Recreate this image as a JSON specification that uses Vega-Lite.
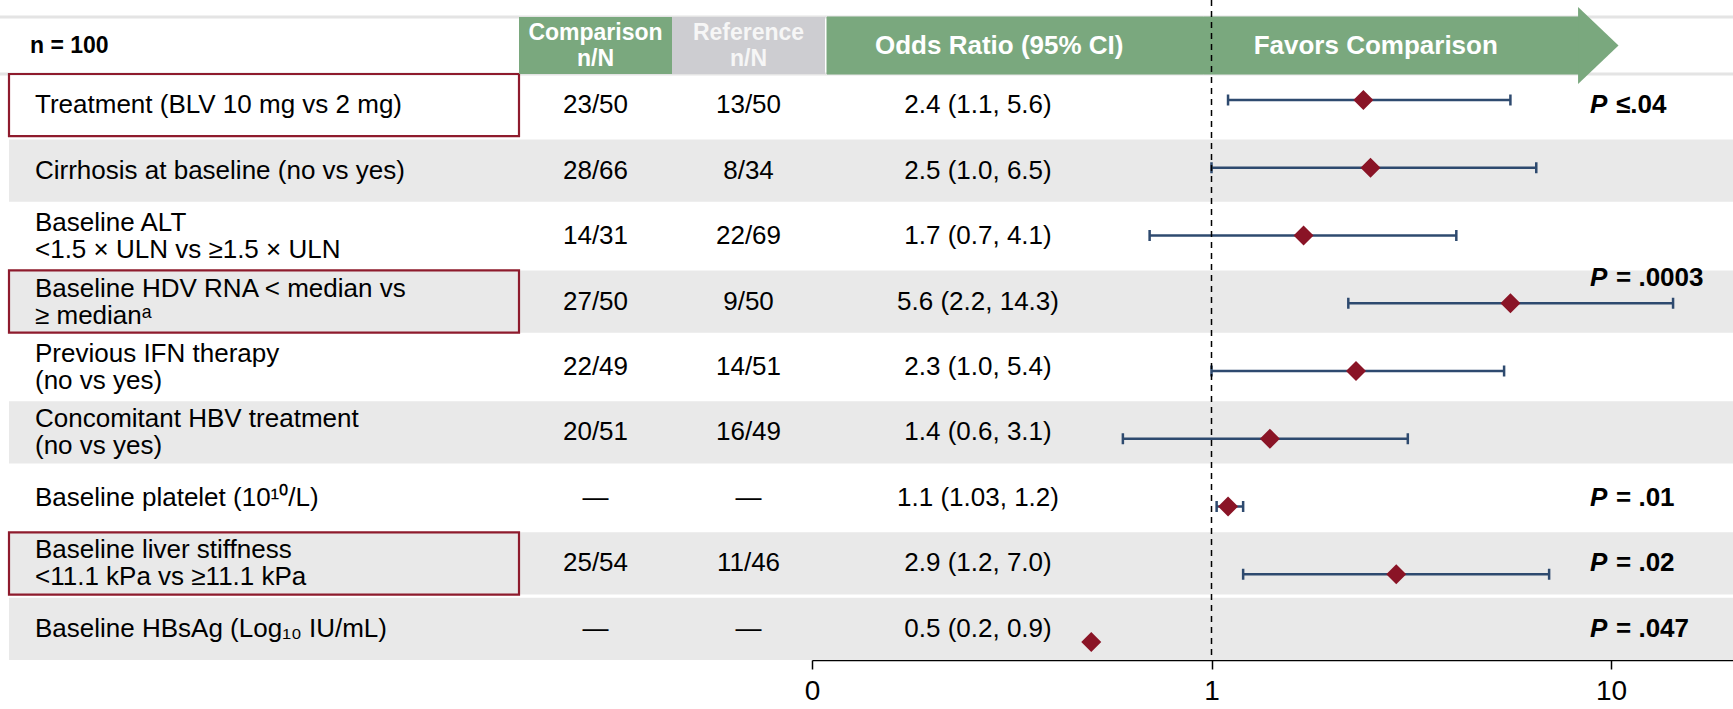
{
  "$schema": "https://vega.github.io/schema/vega-lite/v6.json",
  "width": 1733,
  "height": 660,
  "autosize": {"type": "none"},
  "padding": {"left": 0, "top": 0, "right": 0, "bottom": 49},
  "background": "white",
  "config": {
    "view": {"stroke": null},
    "text": {"font": "Liberation Sans", "fontSize": 26, "color": "#000000"},
    "axis": {"labelFont": "Liberation Sans"}
  },
  "datasets": {
    "rows": [
      {"row": 1, "label": "Treatment (BLV 10 mg vs 2 mg)", "comparison": "23/50", "reference": "13/50", "or": 2.4, "lo": 1.1, "hi": 5.6, "or_text": "2.4 (1.1, 5.6)", "p": "≤.04"},
      {"row": 2, "label": "Cirrhosis at baseline (no vs yes)", "comparison": "28/66", "reference": "8/34", "or": 2.5, "lo": 1.0, "hi": 6.5, "or_text": "2.5 (1.0, 6.5)", "p": null},
      {"row": 3, "label": "Baseline ALT\n<1.5 × ULN vs ≥1.5 × ULN", "comparison": "14/31", "reference": "22/69", "or": 1.7, "lo": 0.7, "hi": 4.1, "or_text": "1.7 (0.7, 4.1)", "p": null},
      {"row": 4, "label": "Baseline HDV RNA < median vs\n≥ medianᵃ", "comparison": "27/50", "reference": "9/50", "or": 5.6, "lo": 2.2, "hi": 14.3, "or_text": "5.6 (2.2, 14.3)", "p": "= .0003"},
      {"row": 5, "label": "Previous IFN therapy\n(no vs yes)", "comparison": "22/49", "reference": "14/51", "or": 2.3, "lo": 1.0, "hi": 5.4, "or_text": "2.3 (1.0, 5.4)", "p": null},
      {"row": 6, "label": "Concomitant HBV treatment\n(no vs yes)", "comparison": "20/51", "reference": "16/49", "or": 1.4, "lo": 0.6, "hi": 3.1, "or_text": "1.4 (0.6, 3.1)", "p": null},
      {"row": 7, "label": "Baseline platelet (10¹⁰/L)", "comparison": "—", "reference": "—", "or": 1.1, "lo": 1.03, "hi": 1.2, "or_text": "1.1 (1.03, 1.2)", "p": "= .01"},
      {"row": 8, "label": "Baseline liver stiffness\n<11.1 kPa vs ≥11.1 kPa", "comparison": "25/54", "reference": "11/46", "or": 2.9, "lo": 1.2, "hi": 7.0, "or_text": "2.9 (1.2, 7.0)", "p": "= .02"},
      {"row": 9, "label": "Baseline HBsAg (Log₁₀ IU/mL)", "comparison": "—", "reference": "—", "or": 0.5, "lo": null, "hi": null, "or_text": "0.5 (0.2, 0.9)", "p": "= .047"}
    ],
    "header": [
      {"section": "n", "title": "n = 100"},
      {"section": "comparison", "title": "Comparison\nn/N"},
      {"section": "reference", "title": "Reference\nn/N"},
      {"section": "odds", "title": "Odds Ratio (95% CI)"},
      {"section": "favors", "title": "Favors Comparison"}
    ]
  },
  "layer": [
    {
      "data": {"name": "rows"},
      "transform": [{"filter": "indexof([2,4,6,8,9], datum.row) >= 0"}],
      "mark": {"type": "rect", "color": "#e9e9e9"},
      "encoding": {
        "x": {"datum": "all", "type": "nominal", "scale": {"type": "band", "domain": ["all"], "range": [9, 1733], "paddingInner": 0, "paddingOuter": 0}, "axis": null},
        "y": {"field": "row", "type": "ordinal", "scale": {"type": "band", "domain": [1,2,3,4,5,6,7,8,9], "range": [74, 660], "paddingInner": 0.05, "paddingOuter": 0}, "axis": null}
      }
    },
    {
      "data": {"name": "header"},
      "transform": [{"filter": "datum.section === 'n'"}],
      "layer": [
        {"mark": {"type": "rule", "color": "#e4e4e4", "strokeWidth": 3},
         "encoding": {"y": {"datum": "header", "type": "nominal", "bandPosition": 0, "scale": {"type": "band", "domain": ["header"], "range": [17, 74], "paddingInner": 0, "paddingOuter": 0}, "axis": null}}},
        {"mark": {"type": "rule", "color": "#e4e4e4", "strokeWidth": 3},
         "encoding": {"y": {"datum": "header", "type": "nominal", "bandPosition": 1, "scale": {"type": "band", "domain": ["header"], "range": [17, 74], "paddingInner": 0, "paddingOuter": 0}, "axis": null}}},
        {"mark": {"type": "text", "align": "left", "baseline": "middle", "fontWeight": "bold", "fontSize": 23, "dx": 21},
         "encoding": {
           "x": {"datum": "label", "type": "nominal", "bandPosition": 0, "scale": {"type": "band", "domain": ["label"], "range": [9, 519], "paddingInner": 0, "paddingOuter": 0}, "axis": null},
           "y": {"datum": "header", "type": "nominal", "scale": {"type": "band", "domain": ["header"], "range": [17, 74], "paddingInner": 0, "paddingOuter": 0}, "axis": null},
           "text": {"field": "title"}
         }}
      ]
    },
    {
      "data": {"name": "rows"},
      "layer": [
        {"transform": [{"filter": "indexof([1,4,8], datum.row) >= 0"}],
         "mark": {"type": "rect", "filled": false, "color": "#8e1b2d", "strokeWidth": 2.2},
         "encoding": {
           "x": {"datum": "label", "type": "nominal", "scale": {"type": "band", "domain": ["label"], "range": [9, 519], "paddingInner": 0, "paddingOuter": 0}, "axis": null},
           "y": {"field": "row", "type": "ordinal", "scale": {"type": "band", "domain": [1,2,3,4,5,6,7,8,9], "range": [74, 660], "paddingInner": 0.05, "paddingOuter": 0}, "axis": null}
         }},
        {"transform": [{"filter": "indexof(datum.label, '\\n') < 0"}],
         "mark": {"type": "text", "align": "left", "baseline": "middle", "dx": 26},
         "encoding": {
           "x": {"datum": "label", "type": "nominal", "bandPosition": 0, "scale": {"type": "band", "domain": ["label"], "range": [9, 519], "paddingInner": 0, "paddingOuter": 0}, "axis": null},
           "y": {"field": "row", "type": "ordinal", "scale": {"type": "band", "domain": [1,2,3,4,5,6,7,8,9], "range": [74, 660], "paddingInner": 0.05, "paddingOuter": 0}, "axis": null},
           "text": {"field": "label"}
         }},
        {"transform": [{"filter": "indexof(datum.label, '\\n') >= 0"}],
         "mark": {"type": "text", "align": "left", "baseline": "middle", "dx": 26, "dy": -13, "lineBreak": "\n", "lineHeight": 27},
         "encoding": {
           "x": {"datum": "label", "type": "nominal", "bandPosition": 0, "scale": {"type": "band", "domain": ["label"], "range": [9, 519], "paddingInner": 0, "paddingOuter": 0}, "axis": null},
           "y": {"field": "row", "type": "ordinal", "scale": {"type": "band", "domain": [1,2,3,4,5,6,7,8,9], "range": [74, 660], "paddingInner": 0.05, "paddingOuter": 0}, "axis": null},
           "text": {"field": "label"}
         }}
      ]
    },
    {
      "data": {"name": "rows"},
      "encoding": {
        "y": {"field": "row", "type": "ordinal", "scale": {"type": "band", "domain": [1,2,3,4,5,6,7,8,9], "range": [74, 660], "paddingInner": 0.05, "paddingOuter": 0}, "axis": null}
      },
      "layer": [
        {"mark": {"type": "text", "align": "center", "baseline": "middle"},
         "encoding": {
           "x": {"datum": "comparison", "type": "nominal", "scale": {"type": "band", "domain": ["comparison", "reference"], "range": [519, 825], "paddingInner": 0, "paddingOuter": 0}, "axis": null},
           "text": {"field": "comparison"}
         }},
        {"mark": {"type": "text", "align": "center", "baseline": "middle"},
         "encoding": {
           "x": {"datum": "reference", "type": "nominal", "scale": {"type": "band", "domain": ["comparison", "reference"], "range": [519, 825], "paddingInner": 0, "paddingOuter": 0}, "axis": null},
           "text": {"field": "reference"}
         }}
      ]
    },
    {
      "data": {"name": "rows"},
      "mark": {"type": "text", "align": "center", "baseline": "middle"},
      "encoding": {
        "x": {"datum": "or", "type": "nominal", "scale": {"type": "band", "domain": ["or"], "range": [826, 1130], "paddingInner": 0, "paddingOuter": 0}, "axis": null},
        "y": {"field": "row", "type": "ordinal", "scale": {"type": "band", "domain": [1,2,3,4,5,6,7,8,9], "range": [74, 660], "paddingInner": 0.05, "paddingOuter": 0}, "axis": null},
        "text": {"field": "or_text"}
      }
    },
    {
      "data": {"name": "rows"},
      "transform": [{"filter": "datum.p != null"}],
      "encoding": {
        "x": {"datum": "p", "type": "nominal", "bandPosition": 0, "scale": {"type": "band", "domain": ["p"], "range": [1590, 1733], "paddingInner": 0, "paddingOuter": 0}, "axis": null},
        "y": {"field": "row", "type": "ordinal", "scale": {"type": "band", "domain": [1,2,3,4,5,6,7,8,9], "range": [74, 660], "paddingInner": 0.05, "paddingOuter": 0}, "axis": null}
      },
      "layer": [
        {"transform": [{"filter": "datum.row != 4"}],
         "mark": {"type": "text", "align": "left", "baseline": "middle", "fontWeight": "bold", "fontStyle": "italic"},
         "encoding": {"text": {"value": "P"}}},
        {"transform": [{"filter": "datum.row != 4"}],
         "mark": {"type": "text", "align": "left", "baseline": "middle", "fontWeight": "bold", "dx": 26},
         "encoding": {"text": {"field": "p"}}},
        {"transform": [{"filter": "datum.row == 4"}],
         "mark": {"type": "text", "align": "left", "baseline": "middle", "fontWeight": "bold", "fontStyle": "italic", "dy": -24},
         "encoding": {"text": {"value": "P"}}},
        {"transform": [{"filter": "datum.row == 4"}],
         "mark": {"type": "text", "align": "left", "baseline": "middle", "fontWeight": "bold", "dx": 26, "dy": -24},
         "encoding": {"text": {"field": "p"}}}
      ]
    },
    {
      "data": {"name": "header"},
      "transform": [{"filter": "datum.section === 'comparison' || datum.section === 'reference'"}],
      "encoding": {
        "x": {"field": "section", "type": "nominal", "scale": {"type": "band", "domain": ["comparison", "reference"], "range": [519, 825], "paddingInner": 0, "paddingOuter": 0}, "axis": null},
        "y": {"datum": "header", "type": "nominal", "scale": {"type": "band", "domain": ["header"], "range": [17, 74], "paddingInner": 0, "paddingOuter": 0}, "axis": null}
      },
      "layer": [
        {"mark": {"type": "rect"},
         "encoding": {"color": {"condition": {"test": "datum.section === 'reference'", "value": "#cdcdd1"}, "value": "#7aa87e"}}},
        {"mark": {"type": "text", "align": "center", "baseline": "middle", "fontWeight": "bold", "fontSize": 23, "lineBreak": "\n", "lineHeight": 26, "dy": -13},
         "encoding": {
           "text": {"field": "title"},
           "color": {"condition": {"test": "datum.section === 'reference'", "value": "#f6f6f6"}, "value": "#ffffff"}
         }}
      ]
    },
    {
      "data": {"name": "header"},
      "transform": [{"filter": "datum.section === 'odds' || datum.section === 'favors'"}],
      "encoding": {
        "y": {"datum": "header", "type": "nominal", "scale": {"type": "band", "domain": ["header"], "range": [17, 74], "paddingInner": 0, "paddingOuter": 0}, "axis": null}
      },
      "layer": [
        {"mark": {"type": "rect", "color": "#7aa87e", "stroke": "#7aa87e", "strokeWidth": 1},
         "encoding": {
           "x": {"field": "section", "type": "nominal", "scale": {"type": "band", "domain": ["odds", "favors"], "range": [827, 1580], "paddingInner": 0, "paddingOuter": 0}, "axis": null}
         }},
        {"transform": [{"filter": "datum.section === 'favors'"}],
         "mark": {"type": "point", "shape": "M-0.05,-1L1,0L-0.05,1Z", "filled": true, "size": 5929, "color": "#7aa87e", "opacity": 1, "strokeWidth": 0},
         "encoding": {
           "x": {"field": "section", "type": "nominal", "bandPosition": 1, "scale": {"type": "band", "domain": ["odds", "favors"], "range": [827, 1580], "paddingInner": 0, "paddingOuter": 0}, "axis": null}
         }},
        {"mark": {"type": "text", "align": "center", "baseline": "middle", "fontWeight": "bold", "fontSize": 26, "color": "#ffffff", "dx": -16},
         "encoding": {
           "x": {"field": "section", "type": "nominal", "scale": {"type": "band", "domain": ["odds", "favors"], "range": [827, 1580], "paddingInner": 0, "paddingOuter": 0}, "axis": null},
           "text": {"field": "title"}
         }}
      ]
    },
    {
      "data": {"name": "rows"},
      "layer": [
        {"mark": {"type": "rule", "color": "#2e4a6f", "strokeWidth": 2.5},
         "encoding": {
           "x": {"field": "lo", "type": "quantitative", "scale": {"type": "log", "domain": [0.1, 20.2], "range": [812, 1733], "nice": false, "zero": false}, "axis": {"orient": "bottom", "values": [0.1, 1, 10], "labelExpr": "datum.value < 0.5 ? '0' : (datum.value > 5 ? '10' : '1')", "title": null, "grid": false, "domainColor": "#000000", "domainWidth": 1.5, "tickColor": "#000000", "tickWidth": 1.5, "tickSize": 9, "labelFontSize": 28, "labelColor": "#000000", "labelPadding": 8, "labelFlush": false, "labelOverlap": false}},
           "x2": {"field": "hi"},
           "y": {"field": "row", "type": "ordinal", "scale": {"type": "point", "domain": [1,2,3,4,5,6,7,8,9], "range": [100, 642], "padding": 0}, "axis": null}
         }},
        {"mark": {"type": "tick", "color": "#2e4a6f", "thickness": 2.5, "size": 11, "opacity": 1},
         "encoding": {
           "x": {"field": "lo", "type": "quantitative", "scale": {"type": "log", "domain": [0.1, 20.2], "range": [812, 1733], "nice": false, "zero": false}, "axis": {"orient": "bottom", "values": [0.1, 1, 10], "labelExpr": "datum.value < 0.5 ? '0' : (datum.value > 5 ? '10' : '1')", "title": null, "grid": false, "domainColor": "#000000", "domainWidth": 1.5, "tickColor": "#000000", "tickWidth": 1.5, "tickSize": 9, "labelFontSize": 28, "labelColor": "#000000", "labelPadding": 8, "labelFlush": false, "labelOverlap": false}},
           "y": {"field": "row", "type": "ordinal", "scale": {"type": "point", "domain": [1,2,3,4,5,6,7,8,9], "range": [100, 642], "padding": 0}, "axis": null}
         }},
        {"mark": {"type": "tick", "color": "#2e4a6f", "thickness": 2.5, "size": 11, "opacity": 1},
         "encoding": {
           "x": {"field": "hi", "type": "quantitative", "scale": {"type": "log", "domain": [0.1, 20.2], "range": [812, 1733], "nice": false, "zero": false}, "axis": {"orient": "bottom", "values": [0.1, 1, 10], "labelExpr": "datum.value < 0.5 ? '0' : (datum.value > 5 ? '10' : '1')", "title": null, "grid": false, "domainColor": "#000000", "domainWidth": 1.5, "tickColor": "#000000", "tickWidth": 1.5, "tickSize": 9, "labelFontSize": 28, "labelColor": "#000000", "labelPadding": 8, "labelFlush": false, "labelOverlap": false}},
           "y": {"field": "row", "type": "ordinal", "scale": {"type": "point", "domain": [1,2,3,4,5,6,7,8,9], "range": [100, 642], "padding": 0}, "axis": null}
         }},
        {"mark": {"type": "point", "shape": "diamond", "filled": true, "size": 400, "color": "#8a1426", "opacity": 1, "strokeWidth": 0},
         "encoding": {
           "x": {"field": "or", "type": "quantitative", "scale": {"type": "log", "domain": [0.1, 20.2], "range": [812, 1733], "nice": false, "zero": false}, "axis": {"orient": "bottom", "values": [0.1, 1, 10], "labelExpr": "datum.value < 0.5 ? '0' : (datum.value > 5 ? '10' : '1')", "title": null, "grid": false, "domainColor": "#000000", "domainWidth": 1.5, "tickColor": "#000000", "tickWidth": 1.5, "tickSize": 9, "labelFontSize": 28, "labelColor": "#000000", "labelPadding": 8, "labelFlush": false, "labelOverlap": false}},
           "y": {"field": "row", "type": "ordinal", "scale": {"type": "point", "domain": [1,2,3,4,5,6,7,8,9], "range": [100, 642], "padding": 0}, "axis": null}
         }},
        {"transform": [{"filter": "datum.row == 1"}],
         "mark": {"type": "rule", "color": "#000000", "strokeWidth": 1.5, "strokeDash": [6, 5]},
         "encoding": {
           "x": {"datum": 1, "type": "quantitative", "scale": {"type": "log", "domain": [0.1, 20.2], "range": [812, 1733], "nice": false, "zero": false}, "axis": {"orient": "bottom", "values": [0.1, 1, 10], "labelExpr": "datum.value < 0.5 ? '0' : (datum.value > 5 ? '10' : '1')", "title": null, "grid": false, "domainColor": "#000000", "domainWidth": 1.5, "tickColor": "#000000", "tickWidth": 1.5, "tickSize": 9, "labelFontSize": 28, "labelColor": "#000000", "labelPadding": 8, "labelFlush": false, "labelOverlap": false}}
         }}
      ]
    }
  ],
  "resolve": {"scale": {"x": "independent", "y": "independent"}}
}
